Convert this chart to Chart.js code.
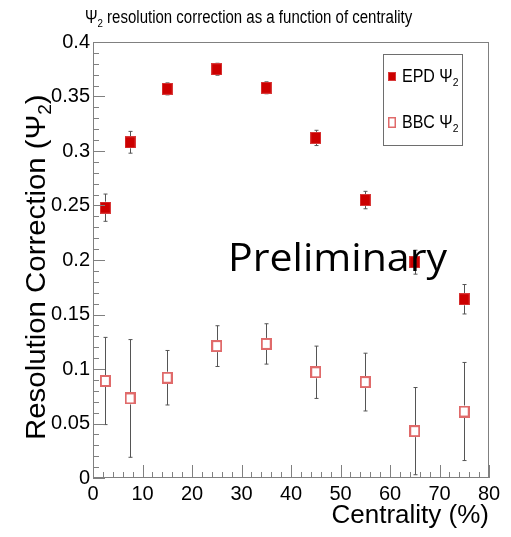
<!DOCTYPE html>
<html>
<head>
<meta charset="utf-8">
<script src="https://cdn.jsdelivr.net/npm/chart.js@4/dist/chart.umd.min.js"></script>
<style>
  html, body { margin: 0; padding: 0; background: #fff; }
  #wrap { width: 511px; height: 537px; }
</style>
</head>
<body>
<div id="wrap"><canvas id="c" width="511" height="537"></canvas></div>
<script>
// Centrality bin centres (%)
const centrality = [2.5, 7.5, 15, 25, 35, 45, 55, 65, 75];
// EPD Psi_2 resolution correction and its uncertainty
const epdValues = [0.248, 0.308, 0.357, 0.375, 0.358, 0.312, 0.255, 0.198, 0.164];
const epdErrors = [0.0125, 0.010, 0.0055, 0.0055, 0.0055, 0.007, 0.008, 0.011, 0.0135];
// BBC Psi_2 resolution correction and its uncertainty
const bbcValues = [0.089, 0.073, 0.092, 0.121, 0.123, 0.097, 0.088, 0.043, 0.061];
const bbcErrors = [0.040, 0.054, 0.025, 0.0187, 0.0185, 0.024, 0.0265, 0.040, 0.045];
// Axis ranges and ticks
const xRange = [0, 80];
const yRange = [0, 0.4];
const xStep = 10, xMinorStep = 2;
const yStep = 0.05, yMinorStep = 0.01;

const TITLE = 'resolution correction as a function of centrality';
const X_TITLE = 'Centrality (%)';
const Y_TITLE = 'Resolution Correction (';
const WATERMARK = 'Preliminary';

const SANS = '"Liberation Sans", Arial, Helvetica, sans-serif';
const FRAME = '#808080';
const EPD_RED = '#cc0000';
const BBC_RED = '#e06a6a';

function marker(w, h, fill, stroke, lw) {
  const c = document.createElement('canvas');
  c.width = w; c.height = h;
  const g = c.getContext('2d');
  if (fill) { g.fillStyle = fill; g.fillRect(0, 0, w, h); }
  if (stroke) { g.strokeStyle = stroke; g.lineWidth = lw; g.strokeRect(lw / 2, lw / 2, w - lw, h - lw); }
  return c;
}
const epdMarker = marker(11, 12, EPD_RED, '#d83a3a', 1);
const bbcMarker = marker(11, 12, '#ffffff', BBC_RED, 2);

function toPoints(xs, ys, es) {
  return xs.map((x, i) => ({ x: x, y: ys[i], err: es[i] }));
}

// text with subscripts: parts = [[text, isSub], ...]
function richText(ctx, parts, x, y, size, sx, sy) {
  ctx.save();
  ctx.translate(x, y);
  ctx.scale(sx, sy);
  let cx = 0;
  for (const [t, sub] of parts) {
    const fs = sub ? size * 0.65 : size;
    ctx.font = fs + 'px ' + SANS;
    ctx.fillText(t, cx, sub ? size * 0.22 : 0);
    cx += ctx.measureText(t).width;
  }
  ctx.restore();
}

const errorBars = {
  id: 'errorBars',
  beforeDatasetsDraw(chart) {
    const ctx = chart.ctx;
    const xs = chart.scales.x, ys = chart.scales.y;
    ctx.save();
    ctx.strokeStyle = '#555';
    ctx.lineWidth = 1;
    chart.data.datasets.forEach((ds) => {
      const half = ds.pointStyle.height / 2;
      ds.data.forEach((p) => {
        const px = Math.round(xs.getPixelForValue(p.x)) + 0.5;
        const pc = ys.getPixelForValue(p.y);
        const pt = ys.getPixelForValue(p.y + p.err);
        const pb = ys.getPixelForValue(Math.max(p.y - p.err, yRange[0]));
        ctx.beginPath();
        if (pt < pc - half) { ctx.moveTo(px, pt); ctx.lineTo(px, pc - half); }
        if (pb > pc + half) { ctx.moveTo(px, pc + half); ctx.lineTo(px, pb); }
        ctx.moveTo(px - 2, pt); ctx.lineTo(px + 2, pt);
        ctx.moveTo(px - 2, pb); ctx.lineTo(px + 2, pb);
        ctx.stroke();
      });
    });
    ctx.restore();
  }
};

const decorations = {
  id: 'decorations',
  afterDatasetsDraw(chart) {
    const ctx = chart.ctx;
    const a = chart.chartArea;
    const xs = chart.scales.x, ys = chart.scales.y;
    ctx.save();

    // frame
    ctx.strokeStyle = FRAME;
    ctx.lineWidth = 1;
    ctx.strokeRect(a.left + 0.5, a.top + 0.5, a.right - a.left - 1, a.bottom - a.top - 1);

    // inner tick marks
    ctx.beginPath();
    for (let v = yRange[0]; v <= yRange[1] + 1e-9; v += yMinorStep) {
      const major = Math.abs(v / yStep - Math.round(v / yStep)) < 1e-6;
      const py = Math.round(ys.getPixelForValue(v)) + 0.5;
      ctx.moveTo(a.left, py); ctx.lineTo(a.left + (major ? 12 : 6), py);
    }
    for (let v = xRange[0]; v <= xRange[1] + 1e-9; v += xMinorStep) {
      const major = Math.abs(v / xStep - Math.round(v / xStep)) < 1e-6;
      const px = Math.round(xs.getPixelForValue(v)) + 0.5;
      ctx.moveTo(px, a.bottom); ctx.lineTo(px, a.bottom - (major ? 13 : 6));
    }
    ctx.stroke();

    // watermark
    ctx.fillStyle = '#000';
    ctx.save();
    ctx.translate(228, 271);
    ctx.font = '39px "Open Sans", "Noto Sans", sans-serif';
    const ww = ctx.measureText(WATERMARK).width;
    ctx.scale(219 / ww, 1);
    ctx.fillText(WATERMARK, 0, 0);
    ctx.restore();

    // legend
    ctx.strokeStyle = '#6e6e6e';
    ctx.strokeRect(383.5, 54.5, 79, 91);
    const ds = chart.data.datasets;
    ctx.drawImage(marker(8, 9, EPD_RED, '#d83a3a', 1), 388, 72);
    ctx.drawImage(marker(8, 11, '#ffffff', BBC_RED, 1.5), 388, 117);
    ctx.fillStyle = '#000';
    richText(ctx, [[ds[0].label, false], ['2', true]], 402, 82, 16, 1, 1.1);
    richText(ctx, [[ds[1].label, false], ['2', true]], 402, 128, 16, 1, 1.1);

    // chart title
    richText(ctx, [['\u03A8', false], ['2', true], [' ' + TITLE, false]], 85, 23, 15, 1, 1.2);

    // axis titles
    ctx.save();
    ctx.font = '26px ' + SANS;
    ctx.textAlign = 'right';
    ctx.fillText(X_TITLE, 489, 523);
    ctx.restore();

    ctx.save();
    ctx.translate(45, 440);
    ctx.rotate(-Math.PI / 2);
    richText(ctx, [[Y_TITLE + '\u03A8', false], ['2', true], [')', false]], 0, 0, 28, 1.05, 1);
    ctx.restore();

    ctx.restore();
  }
};

const tickFmt = (v) => String(+Number(v).toFixed(2));

new Chart(document.getElementById('c'), {
  type: 'scatter',
  data: {
    datasets: [
      { label: 'EPD \u03A8', data: toPoints(centrality, epdValues, epdErrors), pointStyle: epdMarker, showLine: false },
      { label: 'BBC \u03A8', data: toPoints(centrality, bbcValues, bbcErrors), pointStyle: bbcMarker, showLine: false }
    ]
  },
  options: {
    responsive: false,
    devicePixelRatio: 1,
    animation: false,
    layout: { padding: { left: 0, right: 22, top: 42, bottom: 0 } },
    plugins: { legend: { display: false }, tooltip: { enabled: false }, title: { display: false } },
    scales: {
      x: {
        type: 'linear', min: xRange[0], max: xRange[1],
        grid: { display: false, drawTicks: false },
        border: { display: false },
        ticks: { stepSize: xStep, color: '#000', padding: 4, maxRotation: 0, font: { family: SANS, size: 20 }, callback: tickFmt },
        afterFit(s) { s.height = 59; }
      },
      y: {
        type: 'linear', min: yRange[0], max: yRange[1],
        grid: { display: false, drawTicks: false },
        border: { display: false },
        ticks: { stepSize: yStep, color: '#000', padding: 3, font: { family: SANS, size: 20 }, callback: tickFmt },
        afterFit(s) { s.width = 93; }
      }
    }
  },
  plugins: [errorBars, decorations]
});
</script>
</body>
</html>
